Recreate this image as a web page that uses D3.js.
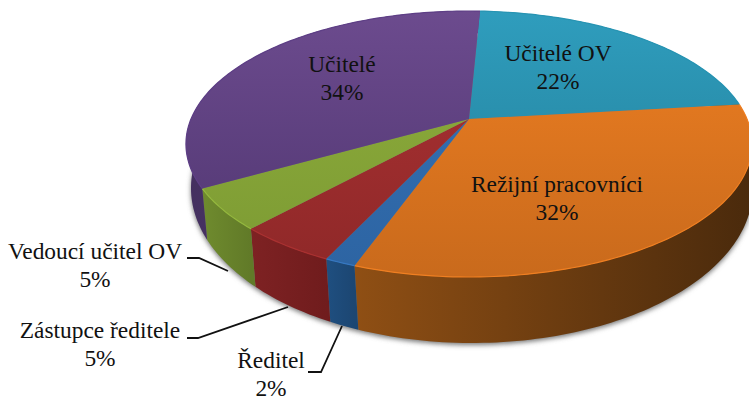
<!DOCTYPE html>
<html>
<head>
<meta charset="utf-8">
<script src="https://d3js.org/d3.v7.min.js"></script>
<style>
  html, body { margin: 0; padding: 0; background: #fff; overflow: hidden; }
  text { font-family: "Liberation Serif", serif; font-size: 23.4px; fill: #111; text-anchor: middle; }
</style>
</head>
<body>
<div id="chart"></div>
<script>
// Data (clockwise, starting at the top)
var categories = ["Učitelé OV", "Režijní pracovníci", "Ředitel", "Zástupce ředitele", "Vedoucí učitel OV", "Učitelé"];
var shares = [22.4, 32.3, 1.5, 4.8, 5.0, 33.9];

// Slice colours: top face (light, dark) and wall (left, right)
var topColors = [["#2f9dbd", "#217c96"], ["#ee7f22", "#c96a1c"], ["#3473b8", "#2d64a2"], ["#ad3234", "#8e2828"], ["#8fae3c", "#7c9a33"], ["#6c4b8e", "#4f3570"]];
var wallColors = [["#1b6278", "#1b6278"], ["#8f4f14", "#4a2a0c"], ["#1f4f80", "#1c4672"], ["#7e2223", "#701c1d"], ["#6f8b2e", "#617a28"], ["#44305f", "#5a3f7e"]];

// Label layout: centre x, first baseline, elbow of the leader line
var labelLayout = [
  { x: 558, y: 61 }, { x: 557, y: 192 },
  { x: 271, y: 368, line: [[308, 372], [321, 372]], end: [342, 326] },
  { x: 100, y: 338, line: [[187, 338], [198, 338]], end: [288, 307] },
  { x: 95, y: 259, line: [[187, 258], [199, 258]], end: [228, 271] },
  { x: 342, y: 72 }
];
var lineGap = 28;

var svgWidth = 749;
var svgHeight = 401;

var svg = d3.select("#chart").append("svg")
  .attr("width", svgWidth)
  .attr("height", svgHeight)
  .style("display", "block");

var defs = svg.append("defs");
defs.append("filter").attr("id", "blur")
  .attr("x", "-5%").attr("y", "-5%").attr("width", "110%").attr("height", "110%")
  .append("feGaussianBlur").attr("stdDeviation", 2.5);

// Perspective view of the disc: planes of the top and bottom face
var tilt = 0.188;
var topPlane = { x: 469, y: 119, a: 278, b: 128.3 };
var bottomPlane = { x: 472, y: 159, a: 276, b: 149.4 };

function project(plane, angle, r) {
  var u = r * Math.sin(angle);
  var v = -r * Math.cos(angle);
  var w = 1 - tilt * v;
  return [plane.x + plane.a * u / w, plane.y + plane.b * v / w];
}

function rim(plane, d) {
  var n = Math.max(2, Math.ceil((d.endAngle - d.startAngle) / 0.02));
  return d3.range(n + 1).map(function(i) {
    return project(plane, d.startAngle + (d.endAngle - d.startAngle) * i / n, 1);
  });
}

var line = d3.line();
var startAngle = 2.7 * Math.PI / 180;
var pie = d3.pie().sort(null).startAngle(startAngle).endAngle(startAngle + 2 * Math.PI);
var slices = pie(shares);

// soft shadow under the disc
var whole = { startAngle: 0, endAngle: 2 * Math.PI };
svg.append("path")
  .attr("d", line(rim(bottomPlane, whole).map(function(p) { return [p[0], p[1] + 2]; })) + "Z")
  .attr("fill", "#777")
  .attr("filter", "url(#blur)");

// walls
slices.forEach(function(d, i) {
  var top = rim(topPlane, d);
  var bottom = rim(bottomPlane, d);
  var id = "wall" + i;
  var grad = defs.append("linearGradient").attr("id", id)
    .attr("gradientUnits", "userSpaceOnUse")
    .attr("x1", d3.min(top, function(p) { return p[0]; }))
    .attr("x2", d3.max(top, function(p) { return p[0]; }))
    .attr("y1", 0).attr("y2", 0);
  grad.append("stop").attr("offset", 0).attr("stop-color", wallColors[i][0]);
  grad.append("stop").attr("offset", 1).attr("stop-color", wallColors[i][1]);
  svg.append("path")
    .attr("d", line(top.concat(bottom.reverse())) + "Z")
    .attr("fill", "url(#" + id + ")");
});

// top faces
var apex = project(topPlane, 0, 0);
slices.forEach(function(d, i) {
  var id = "face" + i;
  var grad = defs.append("linearGradient").attr("id", id)
    .attr("gradientUnits", "userSpaceOnUse")
    .attr("x1", 0).attr("x2", 0).attr("y1", 11).attr("y2", 277);
  grad.append("stop").attr("offset", 0).attr("stop-color", topColors[i][0]);
  grad.append("stop").attr("offset", 1).attr("stop-color", topColors[i][1]);
  svg.append("path")
    .attr("d", line([apex].concat(rim(topPlane, d))) + "Z")
    .attr("fill", "url(#" + id + ")");
  // bevel highlight along the rim
  svg.append("path")
    .attr("d", line(rim(topPlane, d)))
    .attr("fill", "none")
    .attr("stroke", d3.color(topColors[i][1]).brighter(0.5))
    .attr("stroke-width", 1.2);
});

// leader lines
labelLayout.forEach(function(l) {
  if (!l.line) return;
  svg.append("path")
    .attr("d", line(l.line.concat([l.end])))
    .attr("fill", "none")
    .attr("stroke", "#111")
    .attr("stroke-width", 1.8);
});

// labels
categories.forEach(function(name, i) {
  var l = labelLayout[i];
  svg.append("text").attr("x", l.x).attr("y", l.y).text(name);
  svg.append("text").attr("x", l.x).attr("y", l.y + lineGap).text(Math.round(shares[i]) + "%");
});
</script>
</body>
</html>
